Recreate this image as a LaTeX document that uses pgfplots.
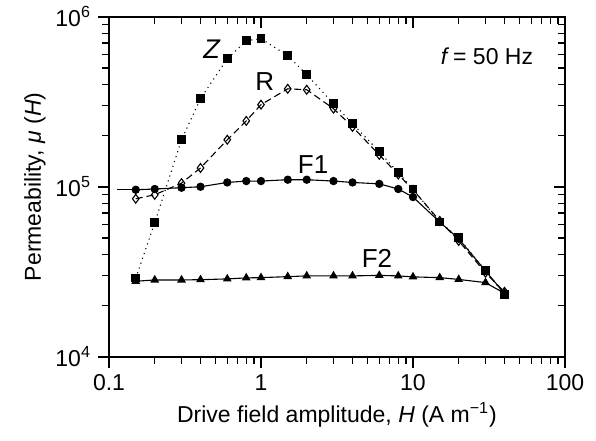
\documentclass[border=0pt]{standalone}
\usepackage{fontspec}
\setmainfont{Liberation Sans}
\usepackage{pgfplots}
\pgfplotsset{compat=1.18}
\pgfplotsset{
  common/.style={
    scale only axis, width=228pt, height=170pt,
    xmin=0.1, xmax=100, ymin=1e4, ymax=1e6,
    axis line style={line width=0.9pt},
    xtick={0.1,1,10,100},
    ytick={1e4,1e5,1e6},
    major tick style={black, line width=0.8pt}, major tick length=5.5pt,
    minor tick style={black, line width=0.7pt}, minor tick length=3.5pt,
  }
}
\begin{document}
\begin{tikzpicture}[font=\fontsize{11.5}{13.5}\selectfont]
\path (0pt,0pt) ++(-54.5pt,-42pt) rectangle ++(298pt,219.5pt);
\begin{loglogaxis}[common, name=main, at={(0pt,0pt)}, anchor=south west,
  tick align=outside, xtick pos=bottom, ytick pos=left,
  xticklabels={0.1,1,10,100},
  yticklabels={10\textsuperscript{4},10\textsuperscript{5},10\textsuperscript{6}},
  xlabel={Drive field amplitude, \textit{H} (A m\textsuperscript{−1})},
  ylabel={Permeability, \textit{μ} (\textit{H})},
  xlabel style={yshift=1pt},
  ylabel style={yshift=-2pt},
  every axis plot/.append style={black, line width=0.55pt},
]
% Z
\addplot[dotted, mark=square*, mark size=1.9pt, mark options={solid}] coordinates {
(0.15,29000)(0.2,61400)(0.3,189000)(0.4,330000)(0.6,566000)(0.8,722000)(1,743000)
(1.5,590000)(2,456000)(3,308000)(4,235000)(6,161000)(8,121000)(10,97000)
(15,62000)(20,50100)(30,32100)(40,23200)};
% R
\addplot[dash pattern=on 3.5pt off 2pt, mark=diamond, mark size=2.2pt, mark options={solid, fill=white}] coordinates {
(0.15,85000)(0.2,89700)(0.3,105000)(0.4,129000)(0.6,189000)(0.8,244000)(1,304000)
(1.5,377000)(2,372000)(3,288000)(4,225000)(6,154000)(8,118000)(10,96000)
(15,63000)(20,48000)(30,31200)(40,24100)};
% F1
\addplot[no marks] coordinates {(0.113,96000)(0.15,96000)};
\addplot[solid, mark=*, mark size=1.8pt] coordinates {
(0.15,96000)(0.2,97000)(0.3,98700)(0.4,100000)(0.6,106000)(0.8,108000)(1,108000)
(1.5,110000)(2,110000)(3,108000)(4,106000)(6,104000)(8,97000)(10,87000)
(15,62000)(20,49400)(30,32000)(40,23500)};
% F2
\addplot[solid, mark=triangle*, mark size=2pt] coordinates {
(0.15,27800)(0.2,28300)(0.3,28300)(0.4,28400)(0.6,28700)(0.8,29100)(1,29200)
(1.5,29600)(2,29900)(3,29900)(4,29900)(6,30100)(8,29900)(10,29500)
(15,29200)(20,28500)(30,27300)(40,23600)};
\node at (axis cs:0.476,640000) {\fontsize{13.5}{15}\selectfont\textit{Z}};
\node at (axis cs:1.06,415000) {\fontsize{13}{15}\selectfont R};
\node at (axis cs:2.2,135000) {\fontsize{13}{15}\selectfont F1};
\node at (axis cs:5.8,37700) {\fontsize{13}{15}\selectfont F2};
\node at (axis cs:30.7,582000) {\textit{f}\,= 50 Hz};
\end{loglogaxis}
\begin{loglogaxis}[common, at={(0pt,0pt)}, anchor=south west,
  tick align=inside, xtick pos=top, ytick pos=right,
  xticklabels={}, yticklabels={}]
\end{loglogaxis}
\end{tikzpicture}
\end{document}
